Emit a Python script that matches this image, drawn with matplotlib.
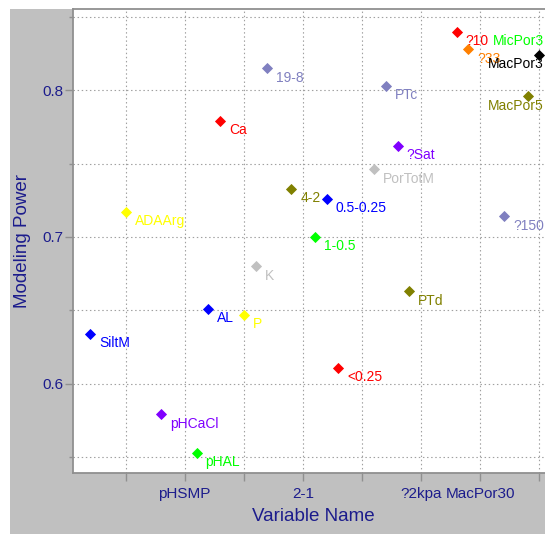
import matplotlib
matplotlib.use('Agg')
import matplotlib.pyplot as plt
from matplotlib.patches import Rectangle

plt.rcParams['font.family'] = ['Liberation Sans', 'DejaVu Sans']

# ---- data ----
names = ['SiltM', 'ADAArg', 'pHCaCl', 'pHAL', 'AL', 'Ca', 'P', 'K', '19-8', '4-2',
         '1-0.5', '0.5-0.25', '<0.25', 'PorTotM', 'PTc', '?Sat', 'PTd', '?10', '?33',
         '?150', 'MacPor5', 'MacPor3', 'MicPor3']
var_index = [2, 5, 8, 11, 12, 13, 15, 16, 17, 19, 21, 22, 23, 26, 27, 28, 29, 33, 34,
             37, 39, 40, 41]
modeling_power = [0.634, 0.717, 0.579, 0.553, 0.651, 0.779, 0.647, 0.680, 0.815, 0.733,
                  0.700, 0.726, 0.611, 0.746, 0.803, 0.762, 0.663, 0.840, 0.828,
                  0.714, 0.796, 0.824, 0.840]
point_colors = ['#0000FF', '#FFFF00', '#8000FF', '#00FF00', '#0000FF', '#FF0000', '#FFFF00',
                '#C0C0C0', '#8080C0', '#808000', '#00FF00', '#0000FF', '#FF0000', '#C0C0C0',
                '#8080C0', '#8000FF', '#808000', '#FF0000', '#FF8000', '#8080C0', '#808000',
                '#000000', '#00FF00']
x_tick_positions = [5, 10, 15, 20, 25, 30, 35, 40]
x_tick_labels = ['', 'pHSMP', '', '2-1', '', '?2kpa', 'MacPor30', '']
y_major_ticks = [0.6, 0.7, 0.8]
y_major_labels = ['0.6', '0.7', '0.8']
y_minor_ticks = [0.55, 0.65, 0.75, 0.85]

W, H = 545, 534
fig = plt.figure(figsize=(W / 100, H / 100), dpi=100, facecolor='white')

# gray frame background
bg = Rectangle((10 / W, 0), 1 - 10 / W, (H - 9) / H,
               transform=fig.transFigure, facecolor='#C0C0C0',
               edgecolor='none', zorder=-10)
fig.add_artist(bg)

ax = fig.add_axes([73 / W, (H - 473) / H, (553 - 73) / W, (473 - 9) / H])
ax.set_zorder(1)
ax.set_facecolor('white')
ax.set_xlim(0.55, 41.15)
ax.set_ylim(0.5391, 0.8554)

navy = '#1C1C8C'
for s in ax.spines.values():
    s.set_color('#909090')
    s.set_linewidth(1.3)

ax.set_xticks(x_tick_positions)
ax.set_xticklabels(x_tick_labels)
ax.set_yticks(y_major_ticks)
ax.set_yticklabels(y_major_labels)
ax.set_yticks(y_minor_ticks, minor=True)

ax.tick_params(axis='x', which='major', length=5.5, width=1, color='#909090',
               labelsize=11, labelcolor=navy, pad=4.5)
ax.tick_params(axis='y', which='major', length=5.5, width=1, color='#909090',
               labelsize=11, labelcolor=navy, pad=1.5)
ax.tick_params(axis='y', which='minor', length=3, width=1, color='#909090')

grid_kw = dict(color='#A0A0A0', linewidth=0.8, linestyle=(0, (1.3, 2.4)))
ax.grid(True, which='major', axis='both', **grid_kw)
ax.grid(True, which='minor', axis='y', **grid_kw)
ax.set_axisbelow(True)

ax.set_xlabel('Variable Name', fontsize=13.5, color=navy)
ax.set_ylabel('Modeling Power', fontsize=13.5, color=navy)
ax.xaxis.set_label_coords(0.5, -0.076)
ax.yaxis.set_label_coords(-0.088, 0.5)

for xi, yi, c in zip(var_index, modeling_power, point_colors):
    ax.plot([xi], [yi], marker='D', markersize=5.4, color=c, markeredgecolor=c,
            markeredgewidth=0.6, linestyle='none', zorder=3)

labels = []
for name, xi, yi, c in zip(names, var_index, modeling_power, point_colors):
    t = ax.annotate(name, (xi, yi), xytext=(9, -13.4), textcoords='offset pixels',
                    fontsize=10, color=c, ha='left', va='baseline',
                    annotation_clip=False, zorder=4)
    labels.append(t)

# keep labels inside the figure (shift left those that overflow)
fig.canvas.draw()
renderer = fig.canvas.get_renderer()
for t in labels:
    bb = t.get_window_extent(renderer)
    if bb.x1 > W - 1:
        t.xyann = (9 - (bb.x1 - (W - 1)), -13.4)

fig.savefig('out.png', dpi=100, facecolor='white')
